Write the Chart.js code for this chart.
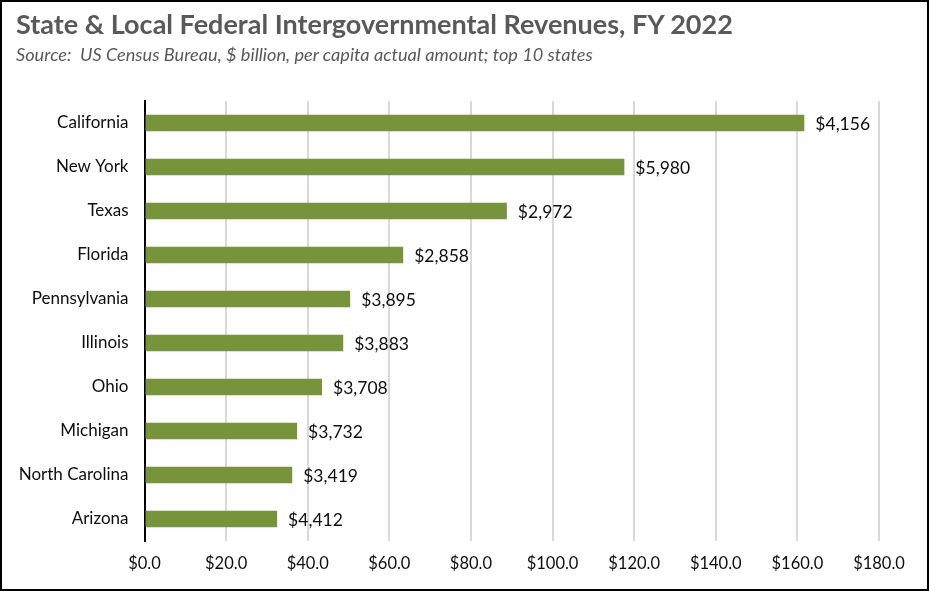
<!DOCTYPE html>
<html>
<head>
<meta charset="utf-8">
<script src="https://cdn.jsdelivr.net/npm/chart.js@4"></script>
<style>
  html, body { margin: 0; padding: 0; background: #fff; }
  #frame { position: relative; width: 929px; height: 591px; box-sizing: border-box; border: 2px solid #000; overflow: hidden; }
  #title { position: absolute; left: 14px; top: 5px; font-family: Lato, "Open Sans", sans-serif; font-weight: bold; font-size: 27px; color: #595959; white-space: nowrap; }
  #subtitle { position: absolute; left: 14px; top: 41px; font-family: Lato, "Open Sans", sans-serif; font-style: italic; font-size: 18.2px; color: #595959; white-space: nowrap; }
  #c { position: absolute; left: 0; top: 0; }
</style>
</head>
<body>
<div id="frame">
  <canvas id="c" width="925" height="587"></canvas>
  <div id="title">State &amp; Local Federal Intergovernmental Revenues, FY 2022</div>
  <div id="subtitle">Source:&nbsp; US Census Bureau, $ billion, per capita actual amount; top 10 states</div>
</div>
<script>
const states = ["California","New York","Texas","Florida","Pennsylvania","Illinois","Ohio","Michigan","North Carolina","Arizona"];
const billions = [161.7, 117.6, 88.8, 63.4, 50.4, 48.7, 43.5, 37.4, 36.2, 32.5];
const perCapita = ["$4,156","$5,980","$2,972","$2,858","$3,895","$3,883","$3,708","$3,732","$3,419","$4,412"];
const xTicks = [0,20,40,60,80,100,120,140,160,180];

const FONT = 'Lato, "Open Sans", sans-serif';

const labelPlugin = {
  id: 'barLabels',
  afterDatasetsDraw(chart) {
    const ctx = chart.ctx;
    const meta = chart.getDatasetMeta(0);
    ctx.save();
    ctx.font = '17.5px ' + FONT;
    ctx.fillStyle = '#0d0d0d';
    ctx.textBaseline = 'middle';
    ctx.textAlign = 'left';
    meta.data.forEach((bar, i) => {
      ctx.fillText(perCapita[i], bar.x + 11, bar.y + 1);
    });
    ctx.restore();
  }
};

new Chart(document.getElementById('c'), {
  type: 'bar',
  data: {
    labels: states,
    datasets: [{
      data: billions,
      backgroundColor: '#77933C',
      borderWidth: 0,
      barPercentage: 0.37,
      categoryPercentage: 1.0
    }]
  },
  options: {
    indexAxis: 'y',
    responsive: false,
    animation: false,
    devicePixelRatio: 1,
    layout: { padding: { top: 99, right: 48, left: 0, bottom: 0 } },
    plugins: { legend: { display: false }, tooltip: { enabled: false }, title: { display: false } },
    scales: {
      x: {
        min: 0, max: 180,
        afterBuildTicks(scale) { scale.ticks = xTicks.map(v => ({ value: v })); },
        afterFit(scale) { scale.height = 48; },
        grid: { color: '#d9d9d9', lineWidth: 2, drawTicks: false },
        border: { display: false },
        ticks: {
          padding: 13,
          color: '#0d0d0d',
          font: { family: FONT, size: 16.5 },
          callback: v => '$' + Number(v).toFixed(1)
        }
      },
      y: {
        afterFit(scale) { scale.width = 142.5; },
        grid: { display: false, drawTicks: false },
        border: { display: true, color: '#000', width: 2 },
        ticks: {
          padding: 16,
          color: '#0d0d0d',
          font: { family: FONT, size: 17 }
        }
      }
    }
  },
  plugins: [labelPlugin]
});
</script>
</body>
</html>
